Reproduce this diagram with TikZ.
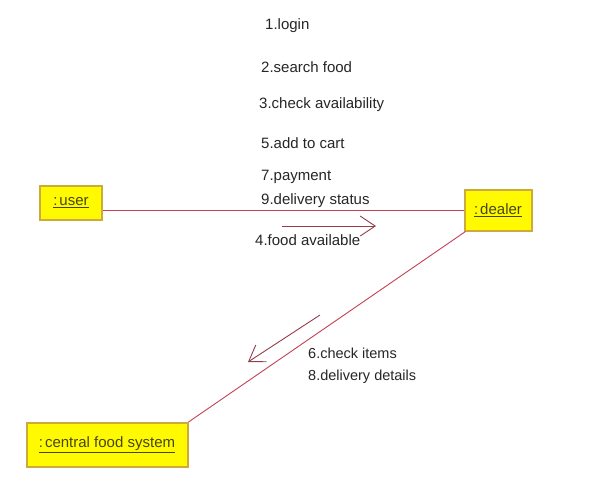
\documentclass[tikz,border=0pt]{standalone}
\usepackage{fontspec}
\setmainfont{Liberation Sans}
\usetikzlibrary{arrows.meta}
\definecolor{boxfill}{RGB}{255,250,0}
\definecolor{boxline}{RGB}{205,170,60}
\definecolor{boxtext}{RGB}{70,70,20}
\definecolor{link}{RGB}{195,65,85}
\definecolor{msgarrow}{RGB}{150,60,75}
\tikzset{x=1pt,y=-1pt,
  object/.style={draw=boxline,line width=2pt,fill=boxfill,text=boxtext,
    font=\fontsize{15}{17}\selectfont,inner sep=0pt},
  msg/.style={anchor=base west,inner sep=0pt,font=\fontsize{15}{17}\selectfont,text=black!85},
  msgb/.style={msg,font=\fontsize{14.5}{16}\selectfont},
  link/.style={draw=link,line width=0.9pt},
  msgline/.style={draw=msgarrow,line width=0.9pt,-{Straight Barb[length=15pt,width=20pt]}}}

\begin{document}
\begin{tikzpicture}
    \useasboundingbox (0,0) rectangle (590,491);
    \node[object,minimum width=62,minimum height=34] (user) at (71,203) {\underline{:\kern2pt user}};
    \node[object,minimum width=67,minimum height=41] (dealer) at (498,210) {\underline{:\kern2pt dealer}};
    \node[object,minimum width=161,minimum height=44] (cfs) at (107,445) {\underline{:\kern2pt central food system}};
    % links
    \draw[link] (user.east |- 0,210) -- (dealer.west);
    \draw[link] (dealer.south west) ++(2,0) -- (cfs.north east);
    % messages user -> dealer
    \node[msg] (login) at (265,29) {1.login};
    \node[msg] (search) at (261,72) {2.search food};
    \node[msg] (check) at (259,108) {3.check availability};
    \node[msg] (cart) at (261,148) {5.add to cart};
    \node[msg] (pay) at (261,180) {7.payment};
    \node[msg] (status) at (261,204) {9.delivery status};
    % dealer -> user
    \coordinate (fa-start) at (282,226);
    \coordinate (fa-end) at (376,226);
    \draw[msgline] (fa-start) -- (fa-end);
    \node[msg] (avail) at (255,245) {4.food available};
    % dealer -> central food system
    \coordinate (ci-start) at (320,315);
    \coordinate (ci-end) at (248,362);
    \draw[msgline] (ci-start) -- (ci-end);
    \node[msgb] (items) at (308,358) {6.check items};
    \node[msgb] (details) at (308,380) {8.delivery details};
\end{tikzpicture}
\end{document}
